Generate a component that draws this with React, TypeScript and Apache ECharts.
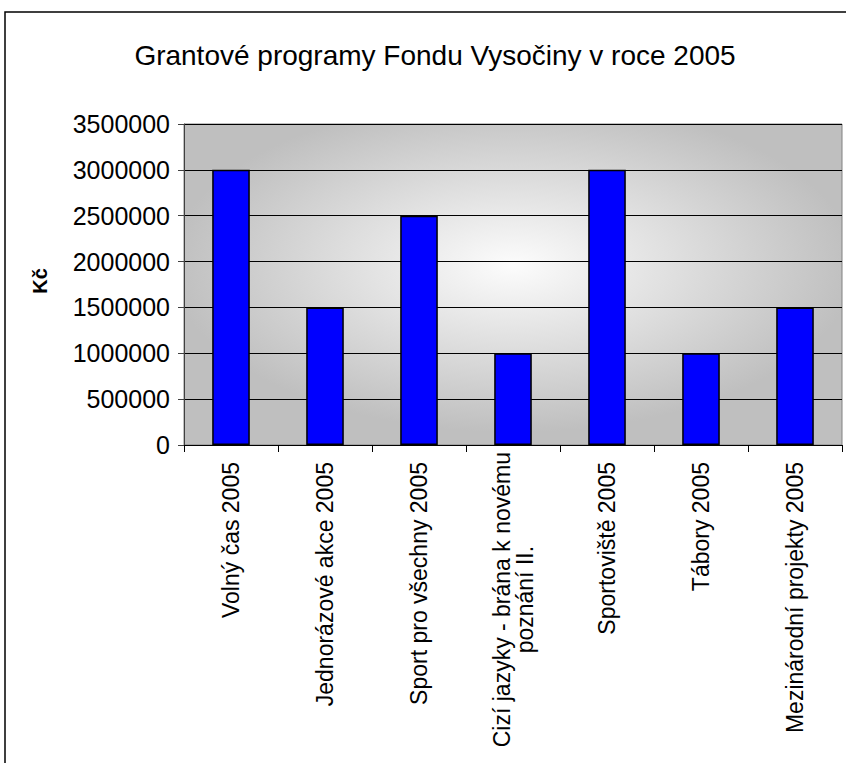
import React, { useEffect, useRef } from "react";
import * as echarts from "echarts";

const categories: string[] = [
  "Volný čas 2005",
  "Jednorázové akce 2005",
  "Sport pro všechny 2005",
  "Cizí jazyky - brána k novému\npoznání II.",
  "Sportoviště 2005",
  "Tábory 2005",
  "Mezinárodní projekty 2005",
];
const values: number[] = [3000000, 1500000, 2500000, 1000000, 3000000, 1000000, 1500000];
const titleText = "Grantové programy Fondu Vysočiny v roce 2005";
const yAxisTitle = "Kč";

const FONT = "'Liberation Sans', Arial, sans-serif";

export default function App() {
  const ref = useRef<HTMLDivElement>(null);
  useEffect(() => {
    if (!ref.current) return;
    const chart = echarts.init(ref.current, undefined, { renderer: "svg" });
    const gridLeft = 184;
    const gridTop = 124;
    const gridW = 658;
    const gridH = 321;
    chart.setOption({
      animation: false,
      backgroundColor: "#ffffff",
      title: {
        text: titleText,
        left: 430,
        top: 36,
        textAlign: "center",
        textStyle: { fontSize: 28, fontWeight: "normal", fontFamily: FONT, color: "#000" },
      },
      graphic: [
        {
          type: "rect",
          x: 5,
          y: 12,
          z: 100,
          shape: { x: 0, y: 0, width: 900, height: 900 },
          style: { fill: "none", stroke: "#000", lineWidth: 1.5 },
          silent: true,
        },
        {
          type: "rect",
          x: gridLeft,
          y: gridTop,
          z: -10,
          scaleY: gridH / gridW,
          shape: { x: 0, y: 0, width: gridW, height: gridW },
          style: {
            fill: {
              type: "radial",
              x: 0.5,
              y: 0.44,
              r: 0.52,
              colorStops: [
                { offset: 0, color: "#fcfcfc" },
                { offset: 1, color: "#bfbfbf" },
              ],
            },
          },
          silent: true,
        },
        {
          type: "text",
          x: 40,
          y: 281,
          rotation: Math.PI / 2,
          style: {
            text: yAxisTitle,
            fontSize: 20,
            fontWeight: "bold",
            fontFamily: FONT,
            fill: "#000",
            textAlign: "center",
            textVerticalAlign: "middle",
          },
          silent: true,
        },
      ],
      grid: {
        left: gridLeft,
        top: gridTop,
        width: gridW,
        height: gridH,
        show: true,
        backgroundColor: "transparent",
        borderColor: "#808080",
        borderWidth: 1,
      },
      xAxis: {
        type: "category",
        data: categories,
        axisLine: { show: true, lineStyle: { color: "#000", width: 1 } },
        axisTick: { show: true, alignWithLabel: false, length: 7, lineStyle: { color: "#000" } },
        axisLabel: {
          interval: 0,
          rotate: 90,
          margin: 7,
          color: "#000",
          fontSize: 23,
          fontFamily: FONT,
          formatter: (v: string) => {
            const lines = v.split("\n");
            if (lines.length > 1) return lines.map((l) => `{c|${l}}`).join("\n");
            return `{b|${v}}`;
          },
          rich: {
            b: { fontSize: 23, fontFamily: FONT, color: "#000", padding: [0, 10, 0, 0] },
            c: { fontSize: 23, fontFamily: FONT, color: "#000", align: "center" },
          },
        },
        splitLine: { show: false },
      },
      yAxis: {
        type: "value",
        min: 0,
        max: 3500000,
        interval: 500000,
        axisLine: { show: true, lineStyle: { color: "#404040", width: 1 } },
        axisTick: { show: true, length: 6, lineStyle: { color: "#404040" } },
        axisLabel: {
          margin: 14,
          color: "#000",
          fontSize: 25,
          fontFamily: FONT,
          formatter: (v: number) => String(v),
        },
        splitLine: { show: true, lineStyle: { color: "#000", width: 1 } },
      },
      series: [
        {
          type: "bar",
          data: values,
          barWidth: "40%",
          itemStyle: { color: "#0000ff", borderColor: "#000", borderWidth: 1.5 },
        },
      ],
    });
    return () => chart.dispose();
  }, []);
  return (
    <div
      ref={ref}
      style={{ position: "absolute", left: 0, top: 0, width: 846, height: 763 }}
    />
  );
}
